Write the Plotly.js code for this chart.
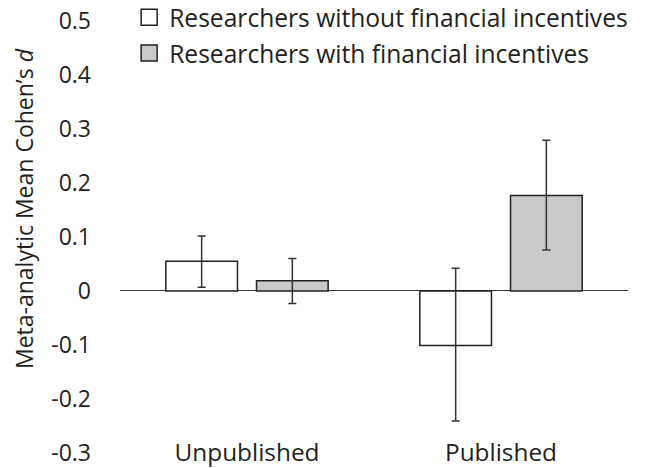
<!DOCTYPE html>
<html>
<head>
<meta charset="utf-8">
<script src="https://cdn.plot.ly/plotly-3.0.1.min.js"></script>
<style>html,body{margin:0;padding:0;background:#fff;}#chart{width:646px;height:468px;}</style>
</head>
<body>
<div id="chart"></div>
<script>
const categories = ['Unpublished', 'Published'];
const seriesNames = ['Researchers without financial incentives', 'Researchers with financial incentives'];
const withoutMeans = [0.055, -0.101];
const withoutErrPlus = [0.047, 0.143];
const withoutErrMinus = [0.048, 0.140];
const withMeans = [0.019, 0.177];
const withErrPlus = [0.041, 0.102];
const withErrMinus = [0.042, 0.101];
const yTickVals = [0.5, 0.4, 0.3, 0.2, 0.1, 0, -0.1, -0.2, -0.3];
const yTickText = ['0.5', '0.4', '0.3', '0.2', '0.1', '0', '-0.1', '-0.2', '-0.3'];
const yTitle = 'Meta-analytic Mean Cohen\u2019s <i>d</i>';

const ink = '#231f20';
const font = 'Open Sans, sans-serif';
const fills = ['#ffffff', '#c8c9cb'];

function errBar(plus, minus) {
  return {type: 'data', symmetric: false, array: plus, arrayminus: minus,
          color: '#333333', thickness: 1.5, width: 4};
}

const traces = [
  {type: 'bar', name: seriesNames[0], x: categories, y: withoutMeans,
   marker: {color: fills[0], line: {color: ink, width: 1.5}},
   error_y: errBar(withoutErrPlus, withoutErrMinus), legendgroup: 'a', showlegend: false},
  {type: 'bar', name: seriesNames[1], x: categories, y: withMeans,
   marker: {color: fills[1], line: {color: ink, width: 1.5}},
   error_y: errBar(withErrPlus, withErrMinus), legendgroup: 'b', showlegend: false},
  {type: 'scatter', mode: 'markers', name: seriesNames[0], x: [null], y: [null],
   marker: {symbol: 'square', size: 16, color: fills[0], line: {color: ink, width: 1.5}},
   legendgroup: 'a', hoverinfo: 'skip'},
  {type: 'scatter', mode: 'markers', name: seriesNames[1], x: [null], y: [null],
   marker: {symbol: 'square', size: 16, color: fills[1], line: {color: ink, width: 1.5}},
   legendgroup: 'b', hoverinfo: 'skip'}
];

const layout = {
  width: 646, height: 468,
  margin: {l: 120, r: 18, t: 21, b: 15, autoexpand: false},
  paper_bgcolor: '#ffffff', plot_bgcolor: '#ffffff',
  font: {family: font, color: ink, size: 23},
  barmode: 'group', bargap: 0.286, bargroupgap: 0.21,
  showlegend: true,
  legend: {x: 0.018, y: 1.061, xanchor: 'left', yanchor: 'top',
           bgcolor: 'rgba(0,0,0,0)', font: {size: 24.6, color: ink, family: font},
           traceorder: 'grouped', tracegroupgap: 1},
  xaxis: {type: 'category', range: [-0.5, 1.5], showline: false, showgrid: false,
          ticks: '', tickfont: {size: 24.4, color: ink}, ticklabelstandoff: -17,
          ticklabeloverflow: 'allow', fixedrange: true},
  yaxis: {range: [-0.3001, 0.5001], tickvals: yTickVals, ticktext: yTickText,
          showline: false, showgrid: false, ticks: '',
          zeroline: true, zerolinecolor: '#333333', zerolinewidth: 1,
          tickfont: {size: 23, color: ink}, ticklabelstandoff: 28,
          ticklabeloverflow: 'allow', fixedrange: true},
  annotations: [{text: yTitle, xref: 'paper', yref: 'paper', x: -0.189, y: 0.567,
                 textangle: -90, showarrow: false, font: {size: 23, color: ink},
                 xanchor: 'center', yanchor: 'middle'}]
};

Plotly.newPlot('chart', traces, layout, {displayModeBar: false, staticPlot: true});
</script>
</body>
</html>
